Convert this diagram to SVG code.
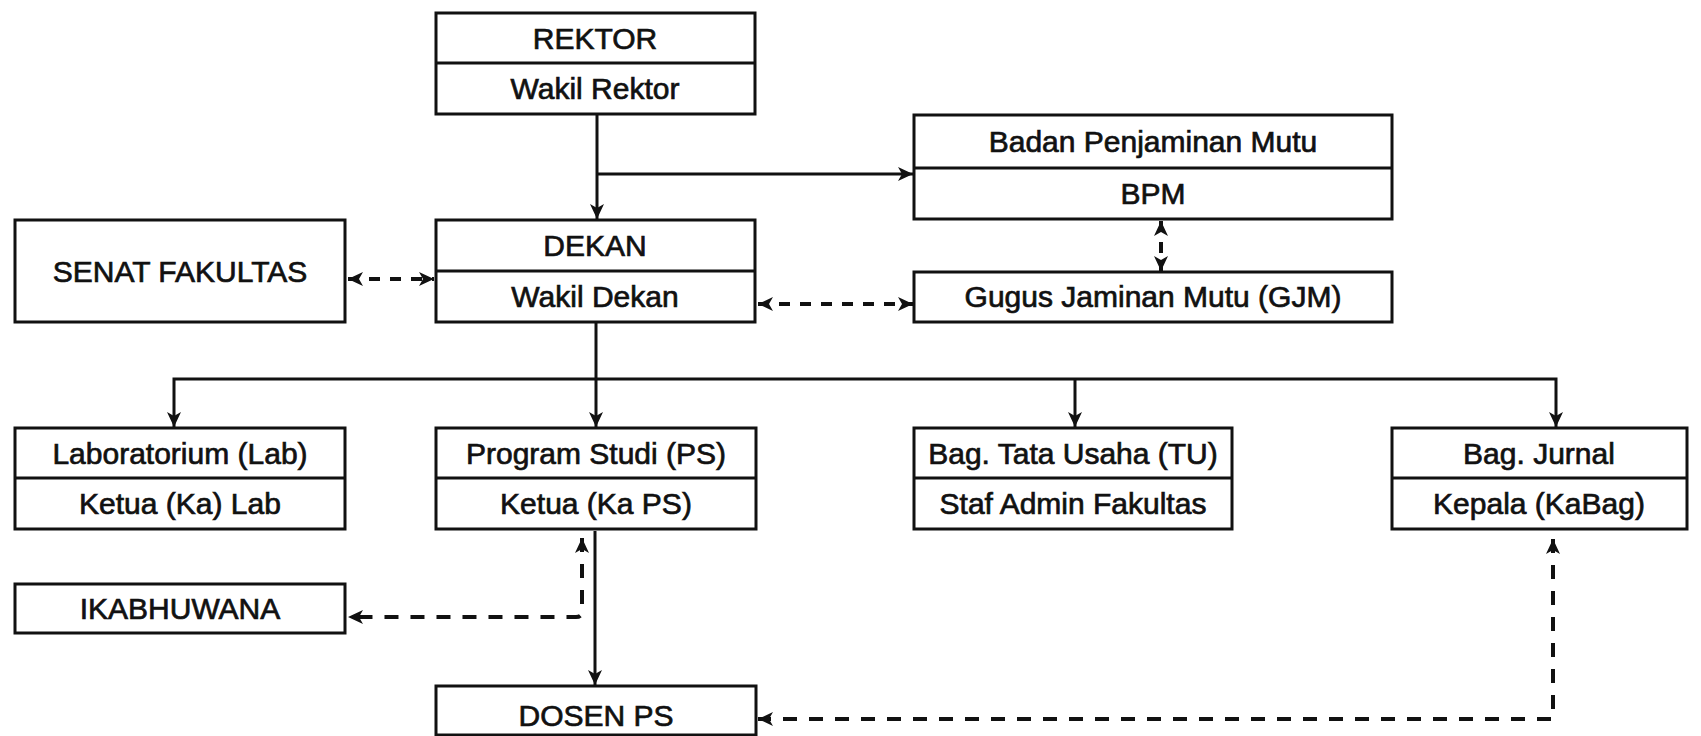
<svg xmlns="http://www.w3.org/2000/svg" width="1701" height="736" viewBox="0 0 1701 736">
<defs>
<style>
.box{fill:#fff;stroke:#111;stroke-width:3}
.div{stroke:#111;stroke-width:3}
.t{font-family:"Liberation Sans",Arial,sans-serif;font-size:30px;fill:#111;stroke:#111;stroke-width:0.7;text-anchor:middle}
.solid{fill:none;stroke:#111;stroke-width:3}
.dash{fill:none;stroke:#111;stroke-width:4;stroke-dasharray:11 10}
.dashv{fill:none;stroke:#111;stroke-width:4;stroke-dasharray:14 12}
</style>
<marker id="ah" markerUnits="userSpaceOnUse" markerWidth="16" markerHeight="14" refX="15" refY="7" orient="auto-start-reverse" viewBox="0 0 16 14">
<path d="M0,0 L15,7 L0,14 L4,7 z" fill="#111"/>
</marker>
</defs>
<rect width="1701" height="736" fill="#fff"/>

<g id="connectors">
<line class="solid" x1="597" y1="115" x2="597" y2="219" marker-end="url(#ah)"/>
<line class="solid" x1="597" y1="174" x2="913" y2="174" marker-end="url(#ah)"/>
<line class="dash" x1="1161" y1="221" x2="1161" y2="271" stroke-dasharray="8 6" marker-start="url(#ah)" marker-end="url(#ah)"/>
<line class="dash" x1="348" y1="279" x2="434" y2="279" marker-start="url(#ah)" marker-end="url(#ah)"/>
<line class="dash" x1="758" y1="304" x2="913" y2="304" marker-start="url(#ah)" marker-end="url(#ah)"/>
<line class="solid" x1="596" y1="323" x2="596" y2="379"/>
<path class="solid" d="M174,427 V379 H1556 V427" marker-start="url(#ah)" marker-end="url(#ah)"/>
<line class="solid" x1="596" y1="379" x2="596" y2="427" marker-end="url(#ah)"/>
<line class="solid" x1="1075" y1="379" x2="1075" y2="427" marker-end="url(#ah)"/>
<line class="solid" x1="595" y1="531" x2="595" y2="685" marker-end="url(#ah)"/>
<path class="dashv" d="M582,538 V611 Q582,617 576,617 H348" stroke-dasharray="14 10" marker-start="url(#ah)" marker-end="url(#ah)"/>
<path class="dashv" d="M1553,539 V719 H758" marker-start="url(#ah)" marker-end="url(#ah)"/>
</g>

<g id="rektor">
<rect class="box" x="436" y="13" width="319" height="101"/>
<line class="div" x1="436" y1="63" x2="755" y2="63"/>
<text class="t" x="595" y="49">REKTOR</text>
<text class="t" x="595" y="99">Wakil Rektor</text>
</g>

<g id="bpm">
<rect class="box" x="914" y="115" width="478" height="104"/>
<line class="div" x1="914" y1="168" x2="1392" y2="168"/>
<text class="t" x="1153" y="152">Badan Penjaminan Mutu</text>
<text class="t" x="1153" y="204">BPM</text>
</g>

<g id="senat">
<rect class="box" x="15" y="220" width="330" height="102"/>
<text class="t" x="180" y="282">SENAT FAKULTAS</text>
</g>

<g id="dekan">
<rect class="box" x="436" y="220" width="319" height="102"/>
<line class="div" x1="436" y1="271" x2="755" y2="271"/>
<text class="t" x="595" y="256">DEKAN</text>
<text class="t" x="595" y="307">Wakil Dekan</text>
</g>

<g id="gjm">
<rect class="box" x="914" y="272" width="478" height="50"/>
<text class="t" x="1153" y="307">Gugus Jaminan Mutu (GJM)</text>
</g>

<g id="lab">
<rect class="box" x="15" y="428" width="330" height="101"/>
<line class="div" x1="15" y1="478" x2="345" y2="478"/>
<text class="t" x="180" y="464">Laboratorium (Lab)</text>
<text class="t" x="180" y="514">Ketua (Ka) Lab</text>
</g>

<g id="ps">
<rect class="box" x="436" y="428" width="320" height="101"/>
<line class="div" x1="436" y1="478" x2="756" y2="478"/>
<text class="t" x="596" y="464">Program Studi (PS)</text>
<text class="t" x="596" y="514">Ketua (Ka PS)</text>
</g>

<g id="tu">
<rect class="box" x="914" y="428" width="318" height="101"/>
<line class="div" x1="914" y1="478" x2="1232" y2="478"/>
<text class="t" x="1073" y="464">Bag. Tata Usaha (TU)</text>
<text class="t" x="1073" y="514">Staf Admin Fakultas</text>
</g>

<g id="jurnal">
<rect class="box" x="1392" y="428" width="295" height="101"/>
<line class="div" x1="1392" y1="478" x2="1687" y2="478"/>
<text class="t" x="1539" y="464">Bag. Jurnal</text>
<text class="t" x="1539" y="514">Kepala (KaBag)</text>
</g>

<g id="ikabhuwana">
<rect class="box" x="15" y="584" width="330" height="49"/>
<text class="t" x="180" y="619">IKABHUWANA</text>
</g>

<g id="dosen">
<rect class="box" x="436" y="686" width="320" height="49"/>
<text class="t" x="596" y="726">DOSEN PS</text>
</g>
</svg>
